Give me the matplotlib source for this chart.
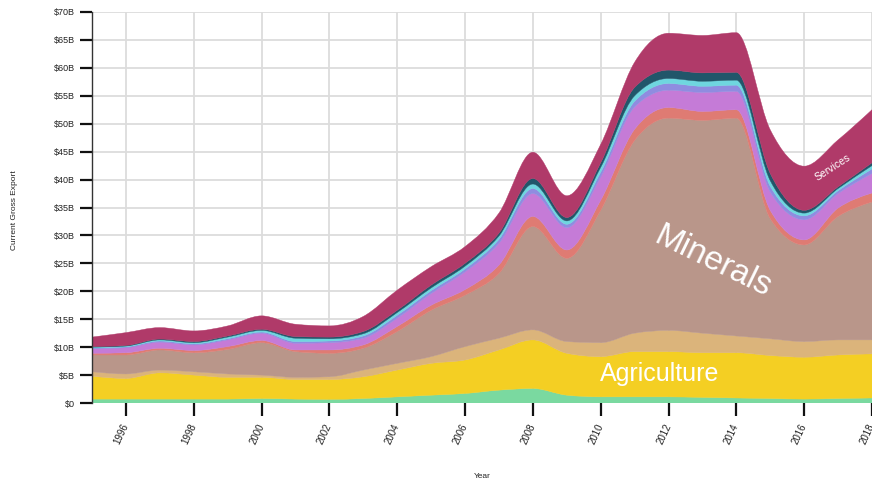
import numpy as np
import matplotlib
matplotlib.use('Agg')
import matplotlib.pyplot as plt
from matplotlib.path import Path
from matplotlib.patches import PathPatch

plt.rcParams['font.family'] = ['Liberation Sans', 'DejaVu Sans']

# export value by year, billions of USD, stacked bottom -> top
years = list(range(1995, 2019))
layer_green = [0.7, 0.7, 0.7, 0.7, 0.7, 0.8, 0.7, 0.65, 0.8, 1.1, 1.4, 1.7,
               2.3, 2.6, 1.4, 1.1, 1.1, 1.1, 1.0, 0.9, 0.8, 0.7, 0.8, 0.9]
agriculture = [4.1, 3.7, 4.7, 4.3, 3.9, 3.8, 3.5, 3.55, 3.9, 4.8, 5.7, 6.0,
               7.2, 8.7, 7.5, 7.2, 8.1, 8.1, 8.0, 8.1, 7.7, 7.5, 7.8, 7.9]
layer_tan = [0.8, 0.8, 0.5, 0.6, 0.6, 0.4, 0.4, 0.5, 1.2, 1.2, 1.2, 2.4,
             2.1, 1.8, 2.1, 2.5, 3.3, 3.8, 3.5, 3.0, 3.0, 2.8, 2.7, 2.5]
minerals = [3.0, 3.4, 3.6, 3.4, 4.4, 5.8, 4.6, 4.2, 3.9, 5.7, 8.3, 9.2,
            11.6, 18.5, 14.9, 23.7, 34.5, 38.0, 38.1, 39.0, 21.5, 17.3, 22.1, 24.7]
layer_salmon = [0.3, 0.4, 0.3, 0.4, 0.5, 0.4, 0.3, 0.6, 0.6, 0.9, 0.9, 1.0,
                1.5, 1.8, 1.5, 1.8, 2.0, 1.9, 1.6, 1.5, 1.5, 0.9, 1.5, 1.6]
layer_purple = [0.8, 0.9, 1.1, 1.0, 1.2, 1.3, 1.2, 1.3, 1.2, 1.5, 2.1, 3.2,
                3.9, 4.1, 4.0, 4.2, 4.0, 3.1, 3.4, 3.3, 3.3, 3.6, 2.6, 3.5]
layer_lavender = [0.15, 0.15, 0.2, 0.2, 0.2, 0.2, 0.3, 0.3, 0.4, 0.5, 0.5, 0.5,
                  0.7, 0.9, 0.6, 0.8, 1.0, 1.2, 1.1, 1.1, 1.0, 0.7, 0.5, 0.8]
layer_cyan = [0.15, 0.15, 0.2, 0.2, 0.3, 0.3, 0.6, 0.4, 0.4, 0.5, 0.5, 0.5,
              0.6, 0.8, 0.6, 0.9, 1.0, 0.9, 0.9, 0.9, 1.0, 0.5, 0.4, 0.6]
layer_teal = [0.1, 0.1, 0.15, 0.2, 0.2, 0.2, 0.3, 0.3, 0.4, 0.4, 0.5, 0.5,
              0.5, 1.0, 0.6, 0.8, 1.5, 1.5, 1.5, 1.4, 1.3, 0.5, 0.3, 0.5]
services = [1.7, 2.3, 2.05, 1.9, 1.8, 2.4, 2.2, 2.0, 2.7, 3.6, 3.3, 3.0,
            3.6, 4.7, 3.9, 3.3, 4.5, 6.6, 6.7, 7.1, 7.8, 7.9, 8.4, 9.5]

layers = [layer_green, agriculture, layer_tan, minerals, layer_salmon,
          layer_purple, layer_lavender, layer_cyan, layer_teal, services]
colors = ['#7ad9a0', '#f4cf23', '#dbb47b', '#b9968a', '#df7b73',
          '#c57bd7', '#8f8ce0', '#6fd6df', '#21566a', '#b03a69']

y_ticks = list(range(0, 75, 5))
x_ticks = list(range(1996, 2019, 2))


def monotone_segments(x, y):
    """Bezier control points for a monotone-x curve (like d3.curveMonotoneX)."""
    x = np.asarray(x, float); y = np.asarray(y, float)
    h = np.diff(x); s = np.diff(y) / h
    t = np.zeros(len(x))
    for i in range(1, len(x) - 1):
        p = (s[i - 1] * h[i] + s[i] * h[i - 1]) / (h[i - 1] + h[i])
        t[i] = (np.sign(s[i - 1]) + np.sign(s[i])) * min(abs(s[i - 1]), abs(s[i]), 0.5 * abs(p))
    t[0] = (3 * s[0] - t[1]) / 2
    t[-1] = (3 * s[-1] - t[-2]) / 2
    segs = []
    for i in range(len(x) - 1):
        d = h[i] / 3
        segs.append(((x[i] + d, y[i] + d * t[i]), (x[i + 1] - d, y[i + 1] - d * t[i + 1]),
                     (x[i + 1], y[i + 1])))
    return segs


def band_path(x, lo, hi):
    verts = [(x[0], hi[0])]
    codes = [Path.MOVETO]
    for c1, c2, p in monotone_segments(x, hi):
        verts += [c1, c2, p]; codes += [Path.CURVE4] * 3
    xr = x[::-1]; lor = lo[::-1]
    verts.append((xr[0], lor[0])); codes.append(Path.LINETO)
    for c1, c2, p in monotone_segments(xr, lor):
        verts += [c1, c2, p]; codes += [Path.CURVE4] * 3
    verts.append((x[0], hi[0])); codes.append(Path.CLOSEPOLY)
    return Path(verts, codes)


fig = plt.figure(figsize=(8.72, 4.8), dpi=100)
ax = fig.add_axes([92 / 872, 77 / 480, 780 / 872, 391 / 480])

stack = np.cumsum(np.array(layers), axis=0)
base = np.zeros(len(years))
xs = np.array(years, float)
for top, col in zip(stack, colors):
    ax.add_patch(PathPatch(band_path(xs, base, top), facecolor=col,
                           edgecolor=col, linewidth=0.3, zorder=2))
    base = top

ax.set_xlim(1995, 2018)
ax.set_ylim(0, 70)
ax.set_yticks(y_ticks)
ax.set_yticklabels(['$0'] + [f'${v}B' for v in y_ticks[1:]])
ax.set_xticks(x_ticks)
ax.set_xticklabels([str(v) for v in x_ticks], rotation=65, ha='right',
                   va='center', rotation_mode='anchor')
ax.grid(True, color='#dcdcdc', linewidth=1.3)
ax.set_axisbelow(True)
for side in ['top', 'right', 'bottom']:
    ax.spines[side].set_visible(False)
ax.spines['left'].set_color('#333333')
ax.spines['left'].set_linewidth(1.0)
ax.tick_params(axis='y', length=9, width=1.6, color='#111111', labelsize=6.5, pad=3,
               labelcolor='#222222')
ax.tick_params(axis='x', length=9, width=1.6, color='#111111', labelsize=7, pad=6,
               labelcolor='#222222')

ax.text(2013.3, 25.2, 'Minerals', color='white', fontsize=24, rotation=-26,
        ha='center', va='center', zorder=5)
ax.text(2011.75, 5.2, 'Agriculture', color='white', fontsize=18,
        ha='center', va='center', zorder=5)
ax.text(2016.85, 42.1, 'Services', color='white', fontsize=7.5, rotation=33,
        ha='center', va='center', zorder=5)

fig.text(15 / 872, 1 - 210 / 480, 'Current Gross Export', rotation=90,
         fontsize=6, ha='center', va='center', color='#222222')
fig.text(482 / 872, 4 / 480, 'Year', fontsize=6, ha='center', va='center',
         color='#222222')

fig.savefig('out.png', dpi=100)
